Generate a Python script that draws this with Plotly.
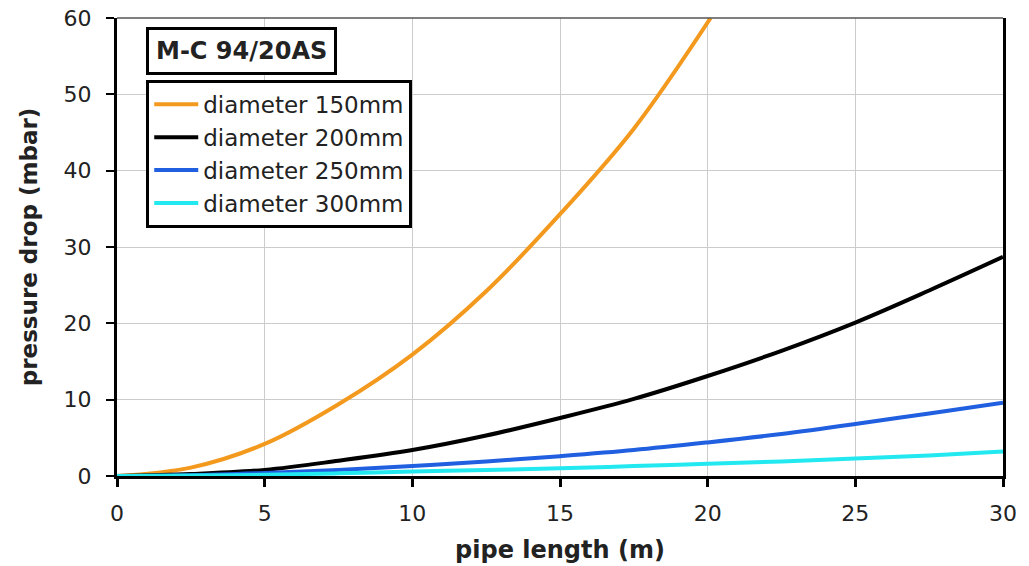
import plotly.graph_objects as go

length_m = [0, 2.5, 5, 7.5, 10, 12.5, 15, 17.5, 20.1]
dp_150 = [0, 1.1, 4.2, 9.4, 15.9, 24.2, 34.3, 45.5, 60.0]

length_full = [0, 2.5, 5, 7.5, 10, 12.5, 15, 17.5, 20, 22.5, 25, 27.5, 30]
dp_200 = [0, 0.25, 0.8, 2.0, 3.4, 5.3, 7.6, 10.1, 13.1, 16.4, 20.1, 24.3, 28.7]
dp_250 = [0, 0.1, 0.4, 0.8, 1.3, 1.9, 2.6, 3.4, 4.4, 5.5, 6.8, 8.2, 9.6]
dp_300 = [0, 0.05, 0.15, 0.35, 0.6, 0.8, 1.0, 1.3, 1.6, 1.9, 2.3, 2.7, 3.2]

series = [
    ("diameter 150mm", length_m, dp_150, "#F39A1E"),
    ("diameter 200mm", length_full, dp_200, "#000000"),
    ("diameter 250mm", length_full, dp_250, "#1F5FE0"),
    ("diameter 300mm", length_full, dp_300, "#22E8F0"),
]

x_ticks = [0, 5, 10, 15, 20, 25, 30]
y_ticks = [0, 10, 20, 30, 40, 50, 60]

fig = go.Figure()
for name, xs, ys, col in series:
    fig.add_trace(go.Scatter(x=xs, y=ys, name=name, mode="lines",
                             line=dict(color=col, width=4, shape="spline", smoothing=1.0)))

font_family = "DejaVu Sans, Arial, sans-serif"
fig.update_layout(
    width=1029, height=566,
    margin=dict(l=117, r=26, t=18, b=90),
    paper_bgcolor="white", plot_bgcolor="white",
    font=dict(family=font_family, color="#222222", size=22),
    showlegend=True,
    legend=dict(x=0.033, y=0.865, xanchor="left", yanchor="top",
                bgcolor="white", bordercolor="black", borderwidth=3,
                font=dict(size=23, color="#222222"), itemwidth=44,
                tracegroupgap=0),
    xaxis=dict(range=[0, 30], tickvals=x_ticks, showgrid=True,
               gridcolor="#CCCCCC", gridwidth=1, showline=True,
               linecolor="black", linewidth=3, ticks="outside", ticklen=8,
               tickwidth=3, tickcolor="black", zeroline=False,
               automargin=False, ticklabelstandoff=8, ticklabeloverflow="allow",
               tickfont=dict(size=22),
               title=dict(text="<b>pipe length (m)</b>", font=dict(size=24, color="#222222"), standoff=16)),
    yaxis=dict(range=[0, 60], tickvals=y_ticks, showgrid=True,
               gridcolor="#CCCCCC", gridwidth=1, showline=True, mirror=True,
               linecolor="black", linewidth=3, ticks="outside", ticklen=8,
               tickwidth=2, tickcolor="black", zeroline=False,
               automargin=False, ticklabelstandoff=10, ticklabeloverflow="allow",
               tickfont=dict(size=22),
               title=dict(text="<b>pressure drop (mbar)</b>", font=dict(size=23, color="#222222"), standoff=20)),
)

fig.add_shape(type="line", xref="paper", yref="paper", x0=0, x1=1, y0=1, y1=1,
              line=dict(color="#555555", width=1.5))

fig.add_annotation(xref="paper", yref="paper", x=0.033, y=0.98, xanchor="left", yanchor="top",
                   text="<b>M-C 94/20AS</b>", showarrow=False,
                   font=dict(size=24, color="#222222"),
                   bgcolor="white", bordercolor="black", borderwidth=3, borderpad=7)

fig.write_html("out.html", config={"displayModeBar": False},
               post_script="document.body.style.margin='0';")
